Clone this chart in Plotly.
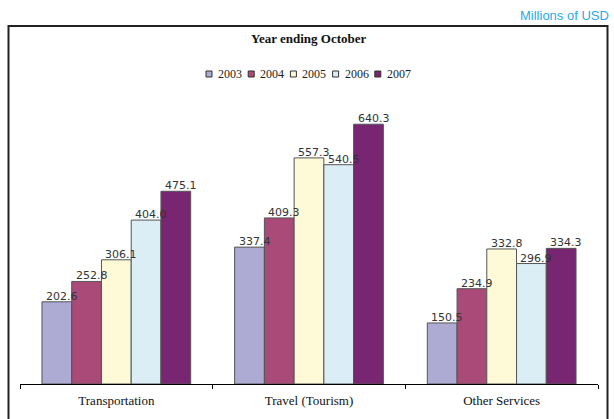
import plotly.graph_objects as go

# ---- data -------------------------------------------------------------
CATEGORIES = ["Transportation", "Travel (Tourism)", "Other Services"]
YEARS = ["2003", "2004", "2005", "2006", "2007"]
VALUES = {
    "2003": [202.6, 337.4, 150.5],
    "2004": [252.8, 409.3, 234.9],
    "2005": [306.1, 557.3, 332.8],
    "2006": [404.0, 540.5, 296.9],
    "2007": [475.1, 640.3, 334.3],
}
COLORS = ["#ADAAD4", "#A94A78", "#FEFAD8", "#DCEEF5", "#782572"]

# ---- page geometry ----------------------------------------------------
W, H = 614, 419
ML, MR, MT, MB = 20, 16, 100, 35
PW, PH = W - ML - MR, H - MT - MB
BARGAP = 0.228
YMAX = 700


def px_x(x):
    """page pixel x -> paper x"""
    return (x - ML) / PW


def px_y(y):
    """page pixel y -> paper y"""
    return (H - MB - y) / PH


fig = go.Figure()
for year, color in zip(YEARS, COLORS):
    fig.add_trace(go.Bar(
        name=year,
        x=CATEGORIES,
        y=VALUES[year],
        marker=dict(color=color, line=dict(color="#555555", width=1)),
        showlegend=False,
        hoverinfo="skip",
    ))

# value labels above each bar
bar_w = (1 - BARGAP) / len(YEARS)
annotations = []
for j, year in enumerate(YEARS):
    for i, v in enumerate(VALUES[year]):
        annotations.append(dict(
            x=i - (1 - BARGAP) / 2 + (j + 0.5) * bar_w, y=v,
            xref="x", yref="y",
            text=f"{v:.1f}", showarrow=False,
            xanchor="center", yanchor="bottom",
            xshift=5, yshift=-3,
            font=dict(family="DejaVu Sans", size=11, color="#333333"),
        ))

# chart title
annotations.append(dict(
    x=px_x(309), y=px_y(39), xref="paper", yref="paper",
    text="<b>Year ending October</b>", showarrow=False,
    xanchor="center", yanchor="middle",
    font=dict(family="Liberation Serif", size=13, color="#111111"),
))

# unit note
annotations.append(dict(
    x=px_x(611), y=px_y(15), xref="paper", yref="paper",
    text="Millions of USD", showarrow=False,
    xanchor="right", yanchor="middle",
    font=dict(family="Liberation Sans", size=13, color="#2AAAE6"),
))

# compact legend: swatch + year label
shapes = []
LEG_X0, LEG_PITCH, LEG_Y, SW = 206, 42.2, 74, 6
for j, (year, color) in enumerate(zip(YEARS, COLORS)):
    sx = LEG_X0 + j * LEG_PITCH
    shapes.append(dict(
        type="rect", xref="paper", yref="paper",
        x0=px_x(sx), x1=px_x(sx + SW),
        y0=px_y(LEG_Y + SW / 2), y1=px_y(LEG_Y - SW / 2),
        fillcolor=color, line=dict(color="#333333", width=1),
    ))
    annotations.append(dict(
        x=px_x(sx + 10), y=px_y(LEG_Y), xref="paper", yref="paper",
        text=year, showarrow=False, xanchor="left", yanchor="middle",
        font=dict(family="Liberation Serif", size=12, color="#222222"),
    ))

# outer frame
shapes.append(dict(
    type="rect", xref="paper", yref="paper",
    x0=px_x(8.5), x1=px_x(607.5), y0=px_y(440), y1=px_y(26),
    line=dict(color="#222222", width=2), fillcolor="rgba(0,0,0,0)",
    layer="below",
))

fig.update_layout(
    width=W, height=H,
    margin=dict(l=ML, r=MR, t=MT, b=MB),
    paper_bgcolor="white", plot_bgcolor="white",
    barmode="group", bargap=BARGAP, bargroupgap=0,
    showlegend=False,
    xaxis=dict(
        type="category", tickson="boundaries", ticks="outside", ticklen=4,
        tickcolor="black", showline=True, linecolor="black", linewidth=1,
        showgrid=False, zeroline=False, ticklabelstandoff=4,
        tickfont=dict(family="Liberation Serif", size=13, color="#111111"),
    ),
    yaxis=dict(range=[0, YMAX], visible=False, showgrid=False),
    annotations=annotations,
    shapes=shapes,
)

fig.write_html("out.html")
